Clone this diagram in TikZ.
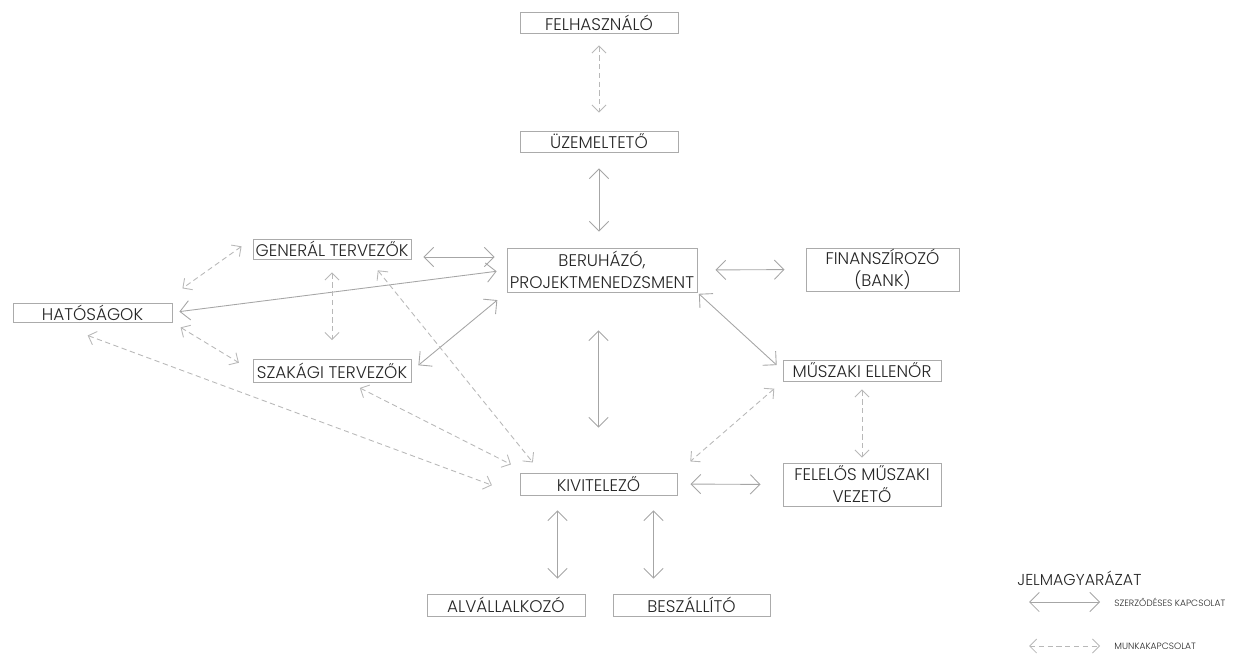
\documentclass[tikz,border=0pt]{standalone}
\usepackage{fontspec}
\setmainfont{Poppins}[UprightFont=* Light]
\usetikzlibrary{arrows.meta, calc}

\begin{document}
\begin{tikzpicture}[x=0.02cm, y=-0.02cm, font=\fontsize{9.6}{12.5}\selectfont,
    box/.style={draw=black!33, line width=0.5pt, inner sep=0pt, align=center, text=black!85, minimum width=3.16cm, minimum height=0.42cm},
    szerz/.style={draw=black!35, line width=0.5pt, {Straight Barb[length=5.5pt,width=11pt]}-{Straight Barb[length=5.5pt,width=11pt]}},
    munka/.style={draw=black!28, line width=0.5pt, dash pattern=on 3pt off 2pt, {Straight Barb[length=4pt,width=8pt]}-{Straight Barb[length=4pt,width=8pt]}}]
    \useasboundingbox (0,0) rectangle (1243,653);

    \node[box] (felh) at (599,22.5) {FELHASZNÁLÓ};
    \node[box] (uzem) at (599,141.5) {ÜZEMELTETŐ};
    \node[box, minimum width=3.8cm, minimum height=0.88cm] (beru) at (602,270) {BERUHÁZÓ,\\PROJEKTMENEDZSMENT};
    \node[box, minimum width=3.06cm, minimum height=0.86cm] (fin) at (882.5,269.5) {FINANSZÍROZÓ\\(BANK)};
    \node[box, minimum height=0.4cm] (gen) at (332,249) {GENERÁL TERVEZŐK};
    \node[box, minimum width=3.18cm, minimum height=0.38cm] (hat) at (92.5,312.5) {HATÓSÁGOK};
    \node[box, minimum height=0.46cm] (szak) at (332,371) {SZAKÁGI TERVEZŐK};
    \node[box] (musz) at (862,370.5) {MŰSZAKI ELLENŐR};
    \node[box, minimum height=0.86cm] (fel) at (862,484.5) {FELELŐS MŰSZAKI\\VEZETŐ};
    \node[box, minimum width=3.14cm, minimum height=0.44cm] (kiv) at (598.5,484) {KIVITELEZŐ};
    \node[box, minimum height=0.44cm] (alv) at (506,605) {ALVÁLLALKOZÓ};
    \node[box, minimum width=3.14cm, minimum height=0.44cm] (bes) at (691.5,605) {BESZÁLLÍTÓ};

    \draw[szerz, shorten <=0.32cm, shorten >=0.32cm] (uzem.south) -- (uzem.south |- beru.north);
    \coordinate (g1) at ([yshift=-0.16cm]gen.east);
    \draw[szerz, shorten <=0.24cm, shorten >=0.24cm] (g1) -- (g1 -| beru.west);
    \draw[szerz, shorten <=0.14cm, shorten >=0.2cm] (hat.east) -- (beru.west);
    \draw[szerz, shorten <=0.18cm, shorten >=0.24cm] (szak.east) -- (beru.south west);
    \draw[szerz, shorten <=0.36cm, shorten >=0.42cm] (beru.east) -- (fin.west);
    \draw[szerz, shorten <=0.04cm, shorten >=0.16cm] (beru.south east) -- (musz.west);
    \draw[szerz, shorten <=0.76cm, shorten >=0.9cm] (kiv.north |- beru.south) -- (kiv.north);
    \draw[szerz, shorten <=0.26cm, shorten >=0.44cm] (kiv.east) -- (fel.west);
    \coordinate (k1) at ([xshift=-0.82cm]kiv.south);
    \coordinate (k2) at ([xshift=1.1cm]kiv.south);
    \draw[szerz, shorten <=0.3cm, shorten >=0.3cm] (k1) -- (k1 |- alv.north);
    \draw[szerz, shorten <=0.3cm, shorten >=0.3cm] (k2) -- (k2 |- bes.north);

    \draw[munka, shorten <=0.24cm, shorten >=0.36cm] (felh.south) -- (uzem.north);
    \draw[munka, shorten <=0.27cm, shorten >=0.49cm] (gen.north west) -- ([xshift=-0.2cm]hat.north east);
    \draw[munka, shorten <=0.26cm, shorten >=0.38cm] (gen.south) -- (szak.north);
    \draw[munka, shorten <=0.19cm, shorten >=0.32cm] (hat.south east) -- (szak.west);
    \draw[munka, shorten <=0.75cm, shorten >=0.59cm] ([xshift=-0.8cm]hat.south) -- (kiv.south west);
    \draw[munka, shorten <=0.28cm, shorten >=0.26cm] ([xshift=0.74cm]gen.south) -- ([xshift=-1.15cm]kiv.north);
    \draw[munka, shorten <=0.22cm, shorten >=0.36cm] ([xshift=0.36cm]szak.south) -- ([xshift=-1.43cm]kiv.north);
    \draw[munka, shorten <=0.22cm, shorten >=0.34cm] (musz.south west) -- (kiv.north east);
    \draw[munka, shorten <=0.16cm, shorten >=0.1cm] (musz.south) -- (fel.north);

    \node[anchor=west, inner sep=0pt, text=black!85, font=\fontsize{9}{10}\selectfont] (jel) at (1017,578) {JELMAGYARÁZAT};
    \coordinate (s1) at (1029,602);
    \coordinate (s2) at (1100,602);
    \draw[szerz] (s1) -- (s2);
    \node[anchor=west, inner sep=0pt, text=black!85, font=\fontsize{5.2}{6}\selectfont] (szl) at (1114,602) {SZERZŐDÉSES KAPCSOLAT};
    \coordinate (m1) at (1029,646);
    \coordinate (m2) at (1100,646);
    \draw[munka] (m1) -- (m2);
    \node[anchor=west, inner sep=0pt, text=black!85, font=\fontsize{5.2}{6}\selectfont] (mul) at (1114,646) {MUNKAKAPCSOLAT};
\end{tikzpicture}
\end{document}
